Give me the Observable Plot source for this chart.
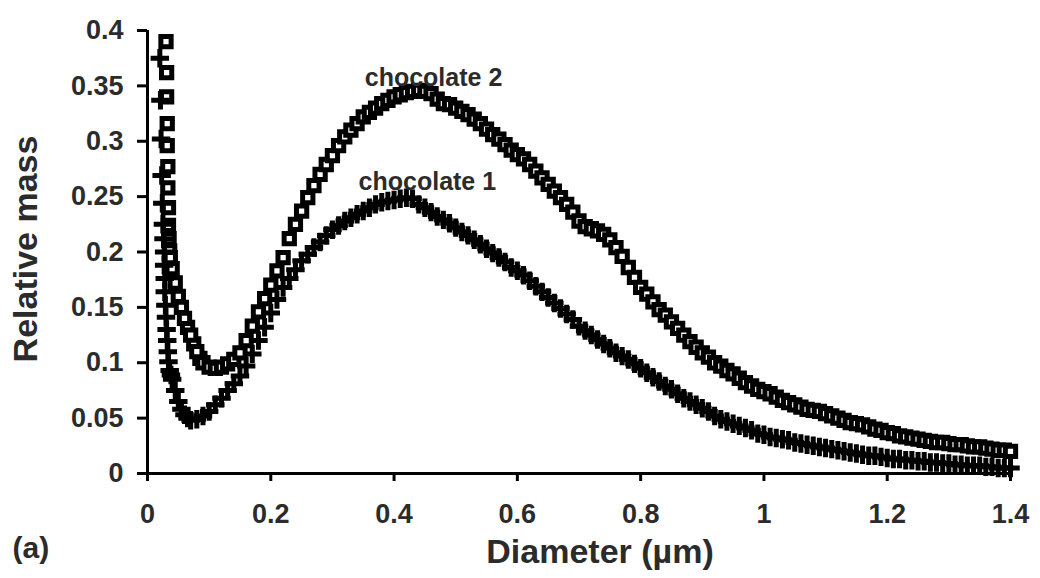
<!DOCTYPE html>
<html>
<head>
<meta charset="utf-8">
<script src="https://cdn.jsdelivr.net/npm/d3@7"></script>
<script src="https://cdn.jsdelivr.net/npm/@observablehq/plot@0.6"></script>
<style>
  html, body { margin: 0; padding: 0; background: #fff; }
  #chart svg text { fill: #2b2b2b; }
</style>
</head>
<body>
<div id="chart"></div>
<script>
// ---- data ----
const xTicks = [0, 0.2, 0.4, 0.6, 0.8, 1, 1.2, 1.4];
const yTicks = [0, 0.05, 0.1, 0.15, 0.2, 0.25, 0.3, 0.35, 0.4];
const xLabel = "Diameter (µm)";
const yLabel = "Relative mass";
const panelLabel = "(a)";

const seriesNames = ["chocolate 1", "chocolate 2"];
const seriesLabelDiameter = [0.454, 0.464];
const seriesLabelMass = [0.263, 0.357];

// very small diameters (steep initial drop and the dense bins below 0.1 µm)
const clusterDiameter1 = [0.020, 0.021, 0.022, 0.023, 0.024, 0.025, 0.026, 0.027, 0.027, 0.028, 0.028, 0.029, 0.030, 0.031, 0.032, 0.033, 0.034, 0.036, 0.038, 0.045, 0.055, 0.065];
const clusterMass1     = [0.375, 0.337, 0.302, 0.269, 0.244, 0.225, 0.212, 0.200, 0.188, 0.176, 0.164, 0.152, 0.141, 0.130, 0.120, 0.110, 0.101, 0.093, 0.089, 0.075, 0.058, 0.050];
const clusterDiameter2 = [0.030, 0.031, 0.031, 0.032, 0.032, 0.033, 0.033, 0.034, 0.034, 0.035, 0.036, 0.037, 0.045, 0.055, 0.065, 0.075, 0.085];
const clusterMass2     = [0.390, 0.362, 0.340, 0.316, 0.296, 0.277, 0.258, 0.240, 0.224, 0.212, 0.201, 0.195, 0.172, 0.150, 0.132, 0.117, 0.104];

// main diameter bins
const gridDiameter = [
  0.04, 0.05, 0.06, 0.07, 0.08, 0.09, 0.10, 0.11, 0.12, 0.13,
  0.14, 0.15, 0.16, 0.17, 0.18, 0.19, 0.20, 0.21, 0.22, 0.23,
  0.24, 0.25, 0.26, 0.27, 0.28, 0.29, 0.30, 0.31, 0.32, 0.33,
  0.34, 0.35, 0.36, 0.37, 0.38, 0.39, 0.40, 0.41, 0.42, 0.43,
  0.44, 0.45, 0.46, 0.47, 0.48, 0.49, 0.50, 0.51, 0.52, 0.53,
  0.54, 0.55, 0.56, 0.57, 0.58, 0.59, 0.60, 0.61, 0.62, 0.63,
  0.64, 0.65, 0.66, 0.67, 0.68, 0.69, 0.70, 0.71, 0.72, 0.73,
  0.74, 0.75, 0.76, 0.77, 0.78, 0.79, 0.80, 0.81, 0.82, 0.83,
  0.84, 0.85, 0.86, 0.87, 0.88, 0.89, 0.90, 0.91, 0.92, 0.93,
  0.94, 0.95, 0.96, 0.97, 0.98, 0.99, 1.00, 1.01, 1.02, 1.03,
  1.04, 1.05, 1.06, 1.07, 1.08, 1.09, 1.10, 1.11, 1.12, 1.13,
  1.14, 1.15, 1.16, 1.17, 1.18, 1.19, 1.20, 1.21, 1.22, 1.23,
  1.24, 1.25, 1.26, 1.27, 1.28, 1.29, 1.30, 1.31, 1.32, 1.33,
  1.34, 1.35, 1.36, 1.37, 1.38, 1.39, 1.40
];

// chocolate 1 (plus markers)
const gridMass1 = [
  0.085, 0.065, 0.053, 0.048, 0.049, 0.052, 0.056, 0.062, 0.068, 0.075,
  0.081, 0.088, 0.097, 0.108, 0.120, 0.132, 0.145, 0.157, 0.168, 0.176,
  0.184, 0.192, 0.198, 0.204, 0.209, 0.215, 0.220, 0.224, 0.228, 0.231,
  0.234, 0.237, 0.240, 0.243, 0.245, 0.246, 0.247, 0.248, 0.249, 0.248,
  0.243, 0.240, 0.236, 0.232, 0.229, 0.226, 0.222, 0.218, 0.215, 0.211,
  0.207, 0.203, 0.199, 0.195, 0.191, 0.186, 0.183, 0.179, 0.174, 0.169,
  0.164, 0.159, 0.154, 0.149, 0.144, 0.139, 0.133, 0.129, 0.125, 0.121,
  0.117, 0.113, 0.109, 0.106, 0.103, 0.099, 0.095, 0.091, 0.087, 0.083,
  0.079, 0.076, 0.072, 0.068, 0.065, 0.062, 0.059, 0.056, 0.052, 0.049,
  0.047, 0.045, 0.043, 0.041, 0.039, 0.036, 0.035, 0.033, 0.032, 0.031,
  0.030, 0.028, 0.027, 0.026, 0.025, 0.024, 0.023, 0.022, 0.021, 0.020,
  0.019, 0.018, 0.017, 0.016, 0.016, 0.015, 0.014, 0.013, 0.013, 0.012,
  0.012, 0.011, 0.011, 0.010, 0.010, 0.009, 0.009, 0.008, 0.008, 0.007,
  0.007, 0.007, 0.006, 0.006, 0.005, 0.005, 0.005
];

// chocolate 2 (open square markers)
const gridMass2 = [
  0.185, 0.160, 0.140, 0.125, 0.110, 0.100, 0.096, 0.095, 0.096, 0.099,
  0.103, 0.109, 0.120, 0.133, 0.146, 0.158, 0.170, 0.183, 0.195, 0.212,
  0.225, 0.237, 0.249, 0.260, 0.270, 0.279, 0.287, 0.296, 0.304, 0.310,
  0.316, 0.322, 0.326, 0.330, 0.334, 0.337, 0.340, 0.342, 0.344, 0.345,
  0.346, 0.345, 0.343, 0.338, 0.334, 0.333, 0.330, 0.327, 0.324, 0.320,
  0.316, 0.311, 0.306, 0.302, 0.297, 0.292, 0.288, 0.284, 0.279, 0.273,
  0.267, 0.261, 0.255, 0.249, 0.243, 0.236, 0.228, 0.223, 0.221, 0.219,
  0.216, 0.211, 0.204, 0.196, 0.186, 0.177, 0.168, 0.162, 0.155, 0.148,
  0.143, 0.137, 0.131, 0.125, 0.119, 0.114, 0.109, 0.105, 0.100, 0.097,
  0.093, 0.090, 0.086, 0.082, 0.079, 0.076, 0.074, 0.072, 0.069, 0.066,
  0.064, 0.062, 0.060, 0.058, 0.057, 0.056, 0.054, 0.052, 0.050, 0.048,
  0.046, 0.045, 0.044, 0.042, 0.040, 0.039, 0.037, 0.036, 0.034, 0.033,
  0.032, 0.031, 0.030, 0.029, 0.028, 0.028, 0.027, 0.026, 0.026, 0.025,
  0.024, 0.024, 0.023, 0.022, 0.021, 0.021, 0.020
];

// ---- build tables ----
const choc1 = clusterDiameter1.map((d, i) => ({d, m: clusterMass1[i]}))
  .concat(gridDiameter.map((d, i) => ({d, m: gridMass1[i]})));
const choc2 = clusterDiameter2.map((d, i) => ({d, m: clusterMass2[i]}))
  .concat(gridDiameter.map((d, i) => ({d, m: gridMass2[i]})));
const seriesLabels = seriesNames.map((name, i) => ({name, d: seriesLabelDiameter[i], m: seriesLabelMass[i]}));

const chart = Plot.plot({
  width: 1040,
  height: 578,
  marginTop: 30,
  marginRight: 30,
  marginBottom: 105,
  marginLeft: 147,
  x: {domain: [0, 1.4]},
  y: {domain: [0, 0.4]},
  style: {fontFamily: "'Liberation Sans', Arial, sans-serif", background: "#fff", color: "#000"},
  marks: [
    Plot.axisY({ticks: yTicks, tickSize: 10, tickPadding: 14, fontSize: 27, fontWeight: "bold", strokeWidth: 3, tickFormat: d => String(d), label: null}),
    Plot.axisX({ticks: xTicks, tickSize: 8, tickPadding: 22, fontSize: 27, fontWeight: "bold", strokeWidth: 3, tickFormat: d => String(d), label: null}),
    Plot.ruleX([0], {y1: 0, y2: 0.4, stroke: "#000", strokeWidth: 3}),
    Plot.ruleY([0], {x1: 0, x2: 1.4, stroke: "#000", strokeWidth: 3}),
    Plot.dot(choc2, {x: "d", y: "m", symbol: "square", r: 5.8, fill: "#fff", stroke: "#000", strokeWidth: 5}),
    Plot.dot(choc1, {x: "d", y: "m", symbol: "plus", r: 6, stroke: "#000", strokeWidth: 5}),
    Plot.text(seriesLabels, {x: "d", y: "m", text: "name", fontSize: 25, fontWeight: "bold"}),
    Plot.text([xLabel], {text: d => d, frameAnchor: "bottom", dx: 21, dy: 79, lineAnchor: "middle", fontSize: 34, fontWeight: "bold"}),
    Plot.text([yLabel], {text: d => d, frameAnchor: "left", textAnchor: "middle", rotate: -90, dx: -121, dy: -3, fontSize: 34, fontWeight: "bold"}),
    Plot.text([panelLabel], {text: d => d, frameAnchor: "bottom-left", textAnchor: "start", dx: -135, dy: 75, lineAnchor: "middle", fontSize: 30, fontWeight: "bold"})
  ]
});
document.getElementById("chart").appendChild(chart);
</script>
</body>
</html>
